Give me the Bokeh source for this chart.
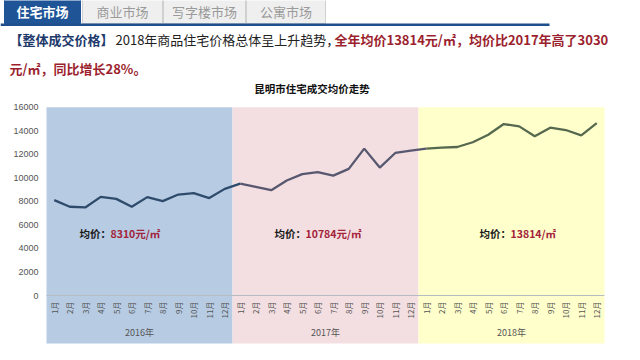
from math import pi
from bokeh.plotting import figure
from bokeh.models import Range1d, Span
from bokeh.core.properties import value
from bokeh.embed import file_html
from bokeh.resources import INLINE

# ---------------- data ----------------
tab_labels = ["住宅市场", "商业市场", "写字楼市场", "公寓市场"]
headline_tag = "【整体成交价格】"
headline_plain = "2018年商品住宅价格总体呈上升趋势，"
headline_red1 = "全年均价13814元/㎡，均价比2017年高了3030"
headline_red2 = "元/㎡，同比增长28%。"
chart_title = "昆明市住宅成交均价走势"

year_labels = ["2016年", "2017年", "2018年"]
month_labels = ["1月", "2月", "3月", "4月", "5月", "6月",
                "7月", "8月", "9月", "10月", "11月", "12月"]
price_2016 = [8100, 7540, 7480, 8380, 8210, 7540, 8360, 8020, 8580, 8700, 8280, 9060]
price_2017 = [9510, 9230, 8950, 9770, 10310, 10480, 10190, 10760, 12480, 10870, 12110, 12310]
price_2018 = [12480, 12560, 12620, 13020, 13660, 14570, 14370, 13530, 14260, 14060, 13610, 14650]
avg_prefix = "均价："
avg_values = ["8310元/㎡", "10784元/㎡", "13814/㎡"]
y_ticks = [0, 2000, 4000, 6000, 8000, 10000, 12000, 14000, 16000]

FONT = value("Noto Sans CJK SC")

# ---------------- geometry ----------------
W, H = 624, 344
X0 = 46.0          # canvas px of month 0
PX_MONTH = 15.5    # px per month
Y0 = 295.0         # canvas px of value 0
PX_PER_UNIT = 188.3 / 16000.0
BAND_BOTTOM_PX = 343.0

x_lo = -X0 / PX_MONTH
x_hi = (W - X0) / PX_MONTH
y_hi = Y0 / PX_PER_UNIT
y_lo = -(H - Y0) / PX_PER_UNIT
band_bottom = -(BAND_BOTTOM_PX - Y0) / PX_PER_UNIT

p = figure(width=W, height=H, title=None,
           x_range=Range1d(x_lo, x_hi), y_range=Range1d(y_lo, y_hi),
           output_backend="svg", toolbar_location=None,
           x_axis_location=None, y_axis_location=None,
           min_border=0, outline_line_color=None,
           background_fill_color="white", border_fill_color="white")
p.grid.visible = False
p.extra_x_ranges = {"px": Range1d(0, W)}
p.extra_y_ranges = {"px": Range1d(H, 0)}

# ---------------- header (pixel coordinates) ----------------
tab_left = [4, 82, 163, 246]
tab_right = [80, 162, 245, 325]
tab_fill = ["#1f5597", "#efefef", "#efefef", "#efefef"]
tab_line = ["#1f5597", "#d0d0d0", "#d0d0d0", "#d0d0d0"]
tab_text_color = ["white", "#9a9a9a", "#9a9a9a", "#9a9a9a"]
tab_style = ["bold", "normal", "normal", "normal"]
p.quad(left=tab_left, right=tab_right, top=[-2] * 4, bottom=[23] * 4,
       fill_color=tab_fill, line_color=tab_line,
       x_range_name="px", y_range_name="px")
for i in range(4):
    p.text(x=[(tab_left[i] + tab_right[i]) / 2], y=[10.5], text=[tab_labels[i]],
           text_font=FONT, text_font_size="13px", text_font_style=tab_style[i],
           text_color=tab_text_color[i], text_align="center", text_baseline="middle",
           x_range_name="px", y_range_name="px")
p.quad(left=[0], right=[549], top=[23], bottom=[25.5], fill_color="#1f4e8c",
       line_color=None, x_range_name="px", y_range_name="px")

hdr_kw = dict(text_font=FONT, text_font_size="13px", text_align="left",
              text_baseline="middle", x_range_name="px", y_range_name="px")
p.text(x=[9], y=[39], text=[headline_tag], text_font_style="bold",
       text_color="#213a6b", **hdr_kw)
p.text(x=[115], y=[39], text=[headline_plain], text_color="#222222", **hdr_kw)
p.text(x=[334], y=[39], text=[headline_red1], text_font_style="bold",
       text_color="#9c1f2e", **hdr_kw)
p.text(x=[9], y=[68], text=[headline_red2], text_font_style="bold",
       text_color="#9c1f2e", **hdr_kw)
p.text(x=[311.5], y=[88], text=[chart_title], text_font=FONT, text_font_size="10.5px",
       text_font_style="bold", text_color="#111111", text_align="center",
       text_baseline="middle", x_range_name="px", y_range_name="px")

# ---------------- chart (data coordinates) ----------------
band_colors = ["#b7cce3", "#f3dfe1", "#ffffcc"]
p.quad(left=[0, 12, 24], right=[12, 24, 36], bottom=[band_bottom] * 3,
       top=[y_ticks[-1]] * 3, fill_color=band_colors, line_color=None)

p.segment(x0=[0], x1=[36], y0=[0], y1=[0], line_color="#b5bcc4", line_width=1)

# y tick labels through the value scale
p.text(x=[X0 - 8] * len(y_ticks), y=y_ticks, text=[str(t) for t in y_ticks],
       x_range_name="px", text_font=value("Liberation Sans"), text_font_size="9px",
       text_color="#555555", text_align="right", text_baseline="middle")

all_prices = price_2016 + price_2017 + price_2018
xs_all = [i + 0.5 for i in range(36)]
line_colors = ["#2e4b6c", "#57586f", "#56694e"]
for k in range(3):
    a = 12 * k
    b = min(12 * k + 13, 36)
    p.line(xs_all[a:b], all_prices[a:b], line_color=line_colors[k], line_width=2.3)

p.text(x=xs_all, y=[-510] * 36, text=month_labels * 3, angle=pi / 2,
       text_font=FONT, text_font_size="8px", text_color="#555555",
       text_align="right", text_baseline="middle")
p.text(x=[6, 18, 30], y=[-3150] * 3, text=year_labels, text_font=FONT,
       text_font_size="9px", text_color="#555555", text_align="center",
       text_baseline="middle")

avg_x = [2.13, 14.71, 27.94]
p.text(x=avg_x, y=[5270] * 3, text=[avg_prefix] * 3, text_font=FONT,
       text_font_size="10.5px", text_font_style="bold", text_color="#1a1a1a",
       text_align="left", text_baseline="middle")
p.text(x=avg_x, y=[5270] * 3, text=avg_values, x_offset=31, text_font=FONT,
       text_font_size="10.5px", text_font_style="bold", text_color="#a3233a",
       text_align="left", text_baseline="middle")

open("out.html", "w").write(file_html(p, INLINE))
